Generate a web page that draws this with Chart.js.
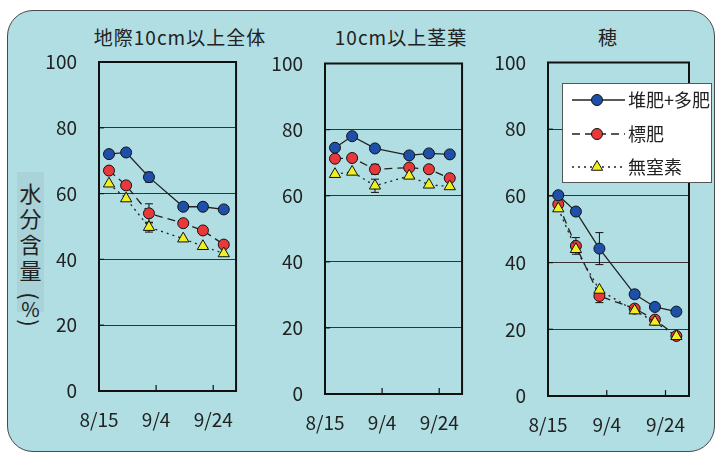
<!DOCTYPE html>
<html>
<head>
<meta charset="utf-8">
<script src="https://cdn.jsdelivr.net/npm/chart.js@4.4.0/dist/chart.umd.min.js"></script>
<style>
  body { margin: 0; width: 717px; height: 457px; overflow: hidden; position: relative; background: #fff;
         font-family: "Noto Sans CJK JP", sans-serif; color: #222; }
  #frame { position: absolute; left: 7px; top: 10px; width: 708px; height: 442px; box-sizing: border-box;
           border: 1.5px solid #4a4a4a; border-radius: 26px; background: #b0dee2; }
  canvas { position: absolute; top: 0; }
  .ttl { position: absolute; top: 24px; font-size: 19px; line-height: 26px; letter-spacing: 1px; white-space: nowrap; transform: translateX(-50%); }
  #ytitle { position: absolute; left: 17px; top: 172px; width: 27px; height: 140px; background: #a9d3d8; }
  #ytitle span { position: absolute; left: 0; width: 27px; text-align: center; font-size: 22px; line-height: 24px; }
  #ytitle span.rot { transform: rotate(90deg); }
</style>
</head>
<body>
<div id="frame"></div>
<div id="ytitle">
  <span style="top:8px">水</span>
  <span style="top:33px">分</span>
  <span style="top:59px">含</span>
  <span style="top:85px">量</span>
  <span class="rot" style="top:112px">(</span>
  <span style="top:125px;font-size:20px">%</span>
  <span class="rot" style="top:139px">)</span>
</div>
<div class="ttl" style="left:180px">地際10cm以上全体</div>
<div class="ttl" style="left:401px">10cm以上茎葉</div>
<div class="ttl" style="left:608px">穂</div>
<canvas id="c1"></canvas>
<canvas id="c2"></canvas>
<canvas id="c3"></canvas>
<script>
// days after 8/15 of each sampling
const sampleDays = [3.5, 9.5, 17.5, 29.5, 36.4, 43.7];
const xTickDays = [0, 20, 40];
const xTickLabels = ['8/15', '9/4', '9/24'];
const seriesNames = ['堆肥+多肥', '標肥', '無窒素'];

// 地際10cm以上全体
const zentaiTaihi = [72, 72.5, 65, 56, 56, 55.2];
const zentaiHyohi = [67, 62.5, 54, 51, 48.8, 44.5];
const zentaiMuchisso = [63, 58.5, 49.8, 46.3, 44, 41.8];
const zentaiTaihiErr = [0, 0, 1.5, 0, 0, 0];
const zentaiHyohiErr = [0, 0, 2.9, 0, 0, 0];
const zentaiMuchissoErr = [0, 0, 1.5, 0, 0, 0];

// 10cm以上茎葉
const keiyoTaihi = [74.5, 78, 74.3, 72.2, 72.8, 72.5];
const keiyoHyohi = [71.2, 71.4, 68, 68.5, 68, 65.3];
const keiyoMuchisso = [66.5, 67.2, 63, 66, 63.3, 62.8];
const keiyoTaihiErr = [0, 0, 0, 0, 0, 0];
const keiyoHyohiErr = [0, 0, 1.5, 0, 0, 0];
const keiyoMuchissoErr = [0, 0, 2, 0, 0, 0];

// 穂
const hoTaihi = [60.2, 55.3, 44.2, 30.5, 26.7, 25.3];
const hoHyohi = [57.5, 45, 30, 26.2, 22.9, 18];
const hoMuchisso = [56.2, 44, 31.8, 25.6, 22.2, 17.9];
const hoTaihiErr = [0, 0, 4.8, 1.2, 0, 0];
const hoHyohiErr = [0, 2.5, 2, 1, 1, 0];
const hoMuchissoErr = [0, 0, 0, 0, 0, 0];

const H = 457;
const YW = 70;
const tickFont = { family: '"Noto Sans CJK JP", sans-serif', size: 19 };

const styles = [
  { pointStyle: 'circle', pointBackgroundColor: '#1e50aa', pointRadius: 5.5, borderDash: [] },
  { pointStyle: 'circle', pointBackgroundColor: '#e8383a', pointRadius: 5.5, borderDash: [8, 5] },
  { pointStyle: 'triangle', pointBackgroundColor: '#f0f020', pointRadius: 6.5, borderDash: [2, 4] }
];

const framePlugin = {
  id: 'frame',
  beforeDatasetsDraw(chart) {
    const a = chart.chartArea, ctx = chart.ctx;
    const xs = chart.scales.x, ys = chart.scales.y;
    ctx.save();
    ctx.strokeStyle = '#111';
    ctx.lineWidth = 1.2;
    xTickDays.slice(1).forEach(d => {
      const px = xs.getPixelForValue(d);
      ctx.beginPath(); ctx.moveTo(px, a.bottom); ctx.lineTo(px, a.bottom - 6); ctx.stroke();
    });
    [20, 40, 60, 80].forEach(v => {
      const py = ys.getPixelForValue(v);
      ctx.beginPath(); ctx.moveTo(a.left, py); ctx.lineTo(a.left + 5, py); ctx.stroke();
    });
    ctx.lineWidth = 2;
    ctx.strokeRect(a.left, a.top, a.right - a.left, a.bottom - a.top);
    // error bars
    ctx.lineWidth = 1;
    chart.data.datasets.forEach(ds => {
      ds.errors.forEach((e, i) => {
        if (!e) return;
        const px = xs.getPixelForValue(ds.data[i].x);
        const hi = ys.getPixelForValue(ds.data[i].y + e);
        const lo = ys.getPixelForValue(ds.data[i].y - e);
        ctx.beginPath();
        ctx.moveTo(px, hi); ctx.lineTo(px, lo);
        ctx.moveTo(px - 4, hi); ctx.lineTo(px + 4, hi);
        ctx.moveTo(px - 4, lo); ctx.lineTo(px + 4, lo);
        ctx.stroke();
      });
    });
    ctx.restore();
  }
};

// legend box drawn in page coordinates, shifted into canvas 3
const legendPlugin = {
  id: 'boxLegend',
  afterDraw(chart) {
    const ctx = chart.ctx;
    const off = chart.canvas.offsetLeft;
    const bx = 562 - off, by = 83, bw = 149, bh = 99;
    const rows = [100, 134, 167];
    ctx.save();
    ctx.fillStyle = '#fff';
    ctx.strokeStyle = '#555';
    ctx.lineWidth = 1;
    ctx.fillRect(bx, by, bw, bh);
    ctx.strokeRect(bx + 0.5, by + 0.5, bw, bh);
    rows.forEach((ry, i) => {
      const st = styles[i];
      ctx.strokeStyle = '#222';
      ctx.lineWidth = 1.3;
      ctx.setLineDash(st.borderDash);
      ctx.beginPath(); ctx.moveTo(bx + 10, ry); ctx.lineTo(bx + 63, ry); ctx.stroke();
      ctx.setLineDash([]);
      ctx.fillStyle = st.pointBackgroundColor;
      ctx.strokeStyle = '#111';
      ctx.lineWidth = 1;
      Chart.helpers.drawPoint(ctx, { pointStyle: st.pointStyle, radius: st.pointRadius, borderWidth: 1 }, bx + 35, ry);
      ctx.fillStyle = '#222';
      ctx.font = '18px "Noto Sans CJK JP", sans-serif';
      ctx.textBaseline = 'middle';
      ctx.fillText(seriesNames[i], bx + 66, ry);
    });
    ctx.restore();
  }
};

function makePanel(id, plot, series, errors, padRight, extra) {
  const cv = document.getElementById(id);
  const left = plot.left - YW;
  cv.width = plot.right + padRight - left;
  cv.height = H;
  cv.style.left = left + 'px';
  const datasets = series.map((vals, i) => ({
    label: seriesNames[i],
    data: sampleDays.map((d, k) => ({ x: d, y: vals[k] })),
    errors: errors[i],
    borderColor: '#222',
    borderWidth: 1.3,
    borderDash: styles[i].borderDash,
    pointStyle: styles[i].pointStyle,
    pointRadius: styles[i].pointRadius,
    pointBackgroundColor: styles[i].pointBackgroundColor,
    pointBorderColor: '#111',
    pointBorderWidth: 1,
    order: [1, 3, 2][i],
    fill: false,
    tension: 0
  }));
  return new Chart(cv, {
    type: 'line',
    data: { datasets },
    options: {
      responsive: false,
      animation: false,
      layout: { padding: { top: plot.top, right: padRight, left: 0, bottom: 0 } },
      plugins: { legend: { display: false }, tooltip: { enabled: false } },
      scales: {
        x: {
          type: 'linear', min: 0, max: 48,
          afterBuildTicks: s => { s.ticks = xTickDays.map(v => ({ value: v })); },
          afterFit: s => { s.height = H - plot.bottom; },
          ticks: { callback: v => xTickLabels[xTickDays.indexOf(v)], font: tickFont, color: '#222',
                   padding: 17, autoSkip: false, maxRotation: 0 },
          grid: { display: false, drawTicks: false },
          border: { display: false }
        },
        y: {
          min: 0, max: 100,
          afterFit: s => { s.width = YW; },
          ticks: { stepSize: 20, font: tickFont, color: '#222', padding: 22 },
          grid: { color: '#333', lineWidth: 1, drawTicks: false },
          border: { display: false }
        }
      }
    },
    plugins: [framePlugin].concat(extra || [])
  });
}

makePanel('c1', { left: 99, right: 245.5, top: 62, bottom: 391 },
  [zentaiTaihi, zentaiHyohi, zentaiMuchisso], [zentaiTaihiErr, zentaiHyohiErr, zentaiMuchissoErr], 6);
makePanel('c2', { left: 324.5, right: 471, top: 63.5, bottom: 394 },
  [keiyoTaihi, keiyoHyohi, keiyoMuchisso], [keiyoTaihiErr, keiyoHyohiErr, keiyoMuchissoErr], 6);
makePanel('c3', { left: 547.5, right: 688.5, top: 62.5, bottom: 396 },
  [hoTaihi, hoHyohi, hoMuchisso], [hoTaihiErr, hoHyohiErr, hoMuchissoErr], 28, [legendPlugin]);
</script>
</body>
</html>
